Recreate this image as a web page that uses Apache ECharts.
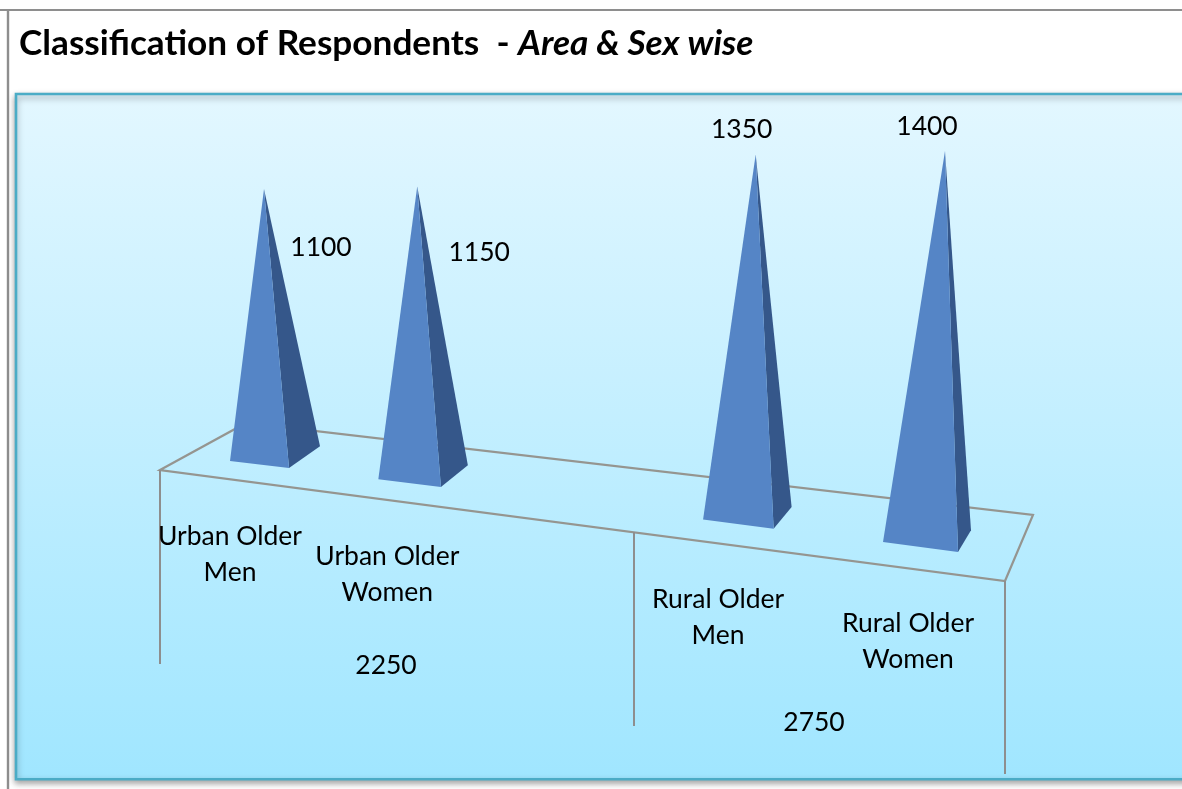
<!DOCTYPE html>
<html><head><meta charset="utf-8">
<style>html,body{margin:0;padding:0;background:#fff}#c{width:1182px;height:789px}</style>
<script src="https://cdn.jsdelivr.net/npm/echarts@6/dist/echarts.min.js"></script>
</head><body><div id="c"></div>
<script>
// Data
const categories = ['Urban Older\nMen', 'Urban Older\nWomen', 'Rural Older\nMen', 'Rural Older\nWomen'];
const respondents = [1100, 1150, 1350, 1400];
const groupTotals = [2250, 2750];

// Layout (not data)
const slots = [0, 0.225, 0.722, 1];
const valueLabelOffsets = [[57, 58], [62, 66], [-14, -25], [-18, -25]];
const categoryLabelOffsets = [[0, 93], [9, 95], [15, 98], [25, 99]];
const FONT = 'Lato, "Open Sans", sans-serif';
const LABEL_SIZE = 26.5;

const seriesData = respondents.map((v, i) => [slots[i], v, i]);

function renderPyramid(params, api) {
  const t = api.value(0), v = api.value(1), i = api.value(2);
  const top = api.coord([t, v]);
  const base = api.coord([t, 0]);
  const perspective = 1 + 0.1294 * t;
  const h = api.size([0, v])[1] * perspective;
  const flY = base[1] + 81 * t;
  const apex = [top[0], flY - h];
  const fl = [apex[0] - (34 + 20 * t + 8 * t * t), flY];
  const fr = [fl[0] + 59 + 16 * t, flY + 7 + 3 * t];
  const r = [fr[0] + 31 - 18 * t, fr[1] - 21.7];
  const textStyle = (text, pt) => ({
    text, x: pt[0], y: pt[1], fill: '#000', fontFamily: FONT, fontSize: LABEL_SIZE,
    align: 'center', verticalAlign: 'middle', lineHeight: 36
  });
  const vo = valueLabelOffsets[i], co = categoryLabelOffsets[i];
  return {
    type: 'group',
    children: [
      { type: 'polygon', shape: { points: [apex, fr, r] }, style: { fill: '#35578A' } },
      { type: 'polygon', shape: { points: [apex, fl, fr] }, style: { fill: '#5585C6' } },
      { type: 'text', z2: 5, style: textStyle(String(v), [apex[0] + vo[0], apex[1] + vo[1]]) },
      { type: 'text', z2: 5, style: textStyle(categories[i], [fl[0] + co[0], fl[1] + co[1]]) }
    ]
  };
}

const GREY = '#8E8E8E';
const line = (x1, y1, x2, y2, w) => ({
  type: 'line', shape: { x1, y1, x2, y2 }, style: { stroke: GREY, lineWidth: w || 2 }
});
const totalText = (v, x, y) => ({
  type: 'text', x, y, style: { text: String(v), fill: '#000', fontFamily: FONT, fontSize: LABEL_SIZE, align: 'center', verticalAlign: 'middle' }
});

const chart = echarts.init(document.getElementById('c'), null, { renderer: 'canvas' });
chart.setOption({
  animation: false,
  backgroundColor: '#fff',
  title: {
    left: 19, top: 26, padding: 0,
    text: '{a|Classification of Respondents  - }{b|Area & Sex wise}',
    textStyle: {
      rich: {
        a: { fontFamily: FONT, fontWeight: 'bold', fontSize: 35.2, color: '#000' },
        b: { fontFamily: FONT, fontWeight: 'bold', fontStyle: 'italic', fontSize: 35.2, color: '#000' }
      }
    }
  },
  grid: { left: 264, width: 681, top: 65.3, height: 395.7 },
  xAxis: { type: 'value', min: 0, max: 1, show: false },
  yAxis: { type: 'value', min: 0, max: 1600, show: false },
  graphic: [
    line(0, 10, 1182, 10, 2),
    line(8, 9, 8, 789, 2.4),
    {
      type: 'rect', shape: { x: 16, y: 94, width: 1200, height: 685.3 },
      style: {
        fill: new echarts.graphic.LinearGradient(0, 0, 0, 1, [
          { offset: 0, color: '#E3F7FF' }, { offset: 1, color: '#A0E6FF' }
        ]),
        stroke: '#4BACC6', lineWidth: 2.6,
        shadowBlur: 6, shadowColor: 'rgba(0,0,0,0.35)', shadowOffsetY: 3
      }
    },
    {
      type: 'polygon',
      shape: { points: [[160, 470], [246, 423], [1033, 515], [1005, 581]] },
      style: { fill: 'rgba(255,255,255,0.0)', stroke: '#959590', lineWidth: 2.2 }
    },
    line(160, 470, 160, 664),
    line(634, 532, 634, 726),
    line(1005, 581, 1005, 774),
    totalText(groupTotals[0], 386, 665),
    totalText(groupTotals[1], 814, 722)
  ],
  series: [{
    type: 'custom',
    coordinateSystem: 'cartesian2d',
    clip: false,
    encode: { x: 0, y: 1 },
    data: seriesData,
    renderItem: renderPyramid
  }]
});
</script></body></html>
